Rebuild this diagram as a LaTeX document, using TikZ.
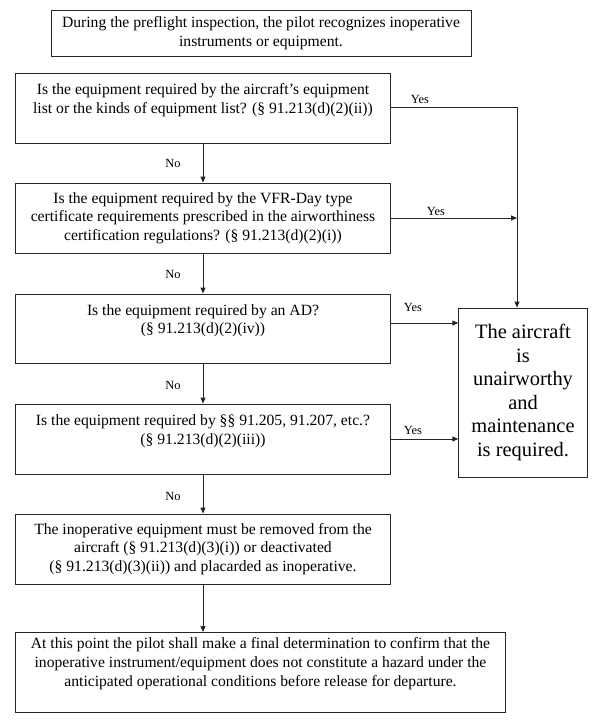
\documentclass[tikz,border=0pt]{standalone}
\usepackage{fontspec}
\setmainfont{Liberation Serif}
\usetikzlibrary{arrows.meta,calc}
\begin{document}
\begin{tikzpicture}[x=1bp,y=-1bp,
  qbox/.style={draw=black!85,line width=0.9bp,inner sep=0,align=center,
    font=\fontsize{15.7}{18.8}\selectfont},
  bigbox/.style={draw=black!85,line width=0.9bp,inner sep=0,align=center,
    font=\fontsize{20.5}{23.6}\selectfont},
  lbl/.style={inner sep=0,font=\fontsize{12.5}{14}\selectfont},
  conn/.style={draw=black!85,line width=0.9bp,-{Triangle[length=6bp,width=5bp]}},
  plain/.style={draw=black!85,line width=0.9bp}]
\useasboundingbox (0,0) rectangle (596,726);
\fill[white] (0,0) rectangle (596,726);
\node[qbox,minimum width=420bp,minimum height=46bp] (top) at (261,33)
  {During the preflight inspection, the pilot recognizes inoperative\\instruments or equipment.};
\node[qbox,minimum width=374.5bp,minimum height=70bp] (b1) at (203,108)
  {Is the equipment required by the aircraft’s equipment\\list or the kinds of equipment list? (§ 91.213(d)(2)(ii))\\\mbox{}};
\node[qbox,minimum width=374.5bp,minimum height=70bp] (b2) at (203,218)
  {Is the equipment required by the VFR-Day type\\certificate requirements prescribed in the airworthiness\\certification regulations? (§ 91.213(d)(2)(i))};
\node[qbox,minimum width=374.5bp,minimum height=69bp] (b3) at (203,328.5)
  {Is the equipment required by an AD?\\(§ 91.213(d)(2)(iv))\\\mbox{}};
\node[qbox,minimum width=374.5bp,minimum height=70bp] (b4) at (203,439)
  {Is the equipment required by §§ 91.205, 91.207, etc.?\\(§ 91.213(d)(2)(iii))\\\mbox{}};
\node[qbox,minimum width=374.5bp,minimum height=70bp] (b5) at (203,549)
  {The inoperative equipment must be removed from the\\aircraft (§ 91.213(d)(3)(i)) or deactivated\\(§ 91.213(d)(3)(ii)) and placarded as inoperative.};
\node[qbox,minimum width=490bp,minimum height=80bp,text depth=0pt] (b6) at (260.5,672.5)
  {At this point the pilot shall make a final determination to confirm that the\\inoperative instrument/equipment does not constitute a hazard under the\\anticipated operational conditions before release for departure.\\[2bp]\mbox{}};
\node[bigbox,minimum width=128.5bp,minimum height=169bp] (big) at (523,392.5)
  {The aircraft\\is\\unairworthy\\and\\maintenance\\is required.};
\coordinate (vx) at (517,0);
% No connectors
\draw[conn] (b1.south) -- (b2.north);
\draw[conn] (b2.south) -- (b3.north);
\draw[conn] (b3.south) -- (b4.north);
\draw[conn] (b4.south) -- (b5.north);
\draw[conn] (b5.south) -- (b5.south |- b6.north);
% Yes connectors
\draw[conn] ([yshift=1bp]b1.east) -- ([yshift=1bp]b1.east -| vx) -- (big.north -| vx);
\draw[conn] (b2.east) -- (b2.east -| vx);
\draw[conn] ([yshift=5.5bp]b3.east) -- ([yshift=5.5bp]b3.east -| big.west);
\draw[conn] (b4.east) -- (b4.east -| big.west);
% labels
\node[lbl] (y1) at (420,99) {Yes};
\node[lbl] (y2) at (436,211) {Yes};
\node[lbl] (y3) at (413,307) {Yes};
\node[lbl] (y4) at (413,430) {Yes};
\node[lbl] (n1) at (173,163) {No};
\node[lbl] (n2) at (173,274) {No};
\node[lbl] (n3) at (173,385) {No};
\node[lbl] (n4) at (173,496) {No};
\end{tikzpicture}
\end{document}
